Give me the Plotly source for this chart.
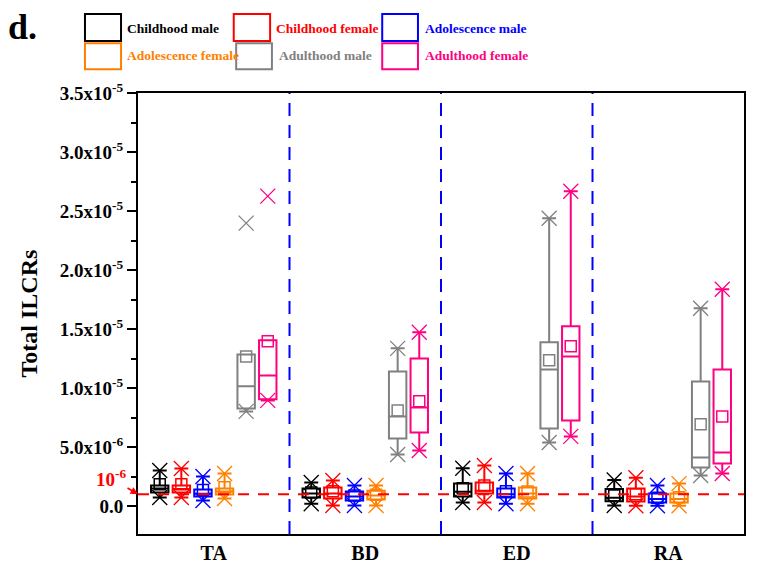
import plotly.graph_objects as go

# ---------------- data (values in units of 1e-6) ----------------
categories = ["TA", "BD", "ED", "RA"]
series_names = ["Childhood male", "Childhood female", "Adolescence male",
                "Adolescence female", "Adulthood male", "Adulthood female"]
series_colors = ["#000000", "#FF0000", "#0000FF", "#FF8000", "#808080", "#FF0080"]

# one row per series, one value per category (TA, BD, ED, RA)
min_vals = [
    [0.72, 0.20, 0.30, 0.05],
    [0.72, 0.05, 0.30, 0.02],
    [0.47, 0.05, 0.20, 0.02],
    [0.64, 0.05, 0.20, 0.02],
    [8.02, 4.37, 5.39, 2.59],
    [8.95, 4.71, 5.90, 2.76],
]
q1_vals = [
    [1.15, 0.72, 0.80, 0.40],
    [1.15, 0.64, 1.06, 0.38],
    [0.80, 0.47, 0.72, 0.30],
    [0.98, 0.55, 0.64, 0.30],
    [8.27, 5.73, 6.58, 3.27],
    [9.04, 6.24, 7.25, 3.61],
]
median_vals = [
    [1.48, 1.06, 1.20, 0.70],
    [1.45, 1.06, 1.30, 0.80],
    [1.05, 0.80, 1.00, 0.60],
    [1.23, 0.90, 1.06, 0.60],
    [10.14, 7.59, 11.58, 4.12],
    [11.07, 8.36, 12.68, 4.54],
]
mean_vals = [
    [1.85, 1.15, 1.50, 0.90],
    [1.85, 1.25, 1.74, 1.00],
    [1.36, 0.90, 1.25, 0.70],
    [1.60, 0.95, 1.23, 0.75],
    [12.68, 8.10, 12.35, 6.92],
    [13.96, 8.87, 13.55, 7.59],
]
q3_vals = [
    [1.74, 1.48, 1.90, 1.45],
    [1.74, 1.57, 1.99, 1.48],
    [1.40, 1.23, 1.48, 1.06],
    [1.48, 1.30, 1.57, 1.06],
    [12.85, 11.41, 13.87, 10.56],
    [14.04, 12.51, 15.23, 11.58],
]
max_vals = [
    [3.01, 2.00, 3.20, 2.20],
    [3.18, 2.16, 3.44, 2.40],
    [2.50, 1.74, 2.76, 1.74],
    [2.76, 1.74, 2.76, 1.90],
    [23.97, 13.36, 24.39, 16.76],
    [26.26, 14.72, 26.68, 18.37],
]
# upper whisker end (TA adulthood maxima are drawn as detached points)
upper_whisker_vals = [
    [3.01, 2.00, 3.20, 2.20],
    [3.18, 2.16, 3.44, 2.40],
    [2.50, 1.74, 2.76, 1.74],
    [2.76, 1.74, 2.76, 1.90],
    [12.85, 13.36, 24.39, 16.76],
    [14.04, 14.72, 26.68, 18.37],
]
threshold = 1.0  # 10^-6 reference level

ytick_vals = [0, 5, 10, 15, 20, 25, 30, 35]
ytick_text = ["0.0", "5.0x10<sup>-6</sup>", "1.0x10<sup>-5</sup>", "1.5x10<sup>-5</sup>",
              "2.0x10<sup>-5</sup>", "2.5x10<sup>-5</sup>", "3.0x10<sup>-5</sup>",
              "3.5x10<sup>-5</sup>"]

UNIT = 1e-6
FONT = "Liberation Serif"
SPACING = 0.1426
BOX_W = 0.115

fig = go.Figure()

for s, (name, col) in enumerate(zip(series_names, series_colors)):
    off = (s - 2.5) * SPACING
    xs = [i + 0.5 + off for i in range(len(categories))]
    sc = lambda arr: [v * UNIT for v in arr[s]]
    fig.add_trace(go.Box(
        x=xs, q1=sc(q1_vals), median=sc(median_vals), q3=sc(q3_vals),
        lowerfence=sc(min_vals), upperfence=sc(upper_whisker_vals),
        width=BOX_W, whiskerwidth=0.8, boxpoints=False,
        line=dict(color=col, width=2), fillcolor="rgba(0,0,0,0)",
        name=name, showlegend=False))
    fig.add_trace(go.Scatter(
        x=xs, y=sc(mean_vals), mode="markers", showlegend=False,
        marker=dict(symbol="square-open", size=11, color=col,
                    line=dict(color=col, width=1.5))))
    fig.add_trace(go.Scatter(
        x=xs + xs, y=sc(min_vals) + sc(max_vals), mode="markers", showlegend=False,
        marker=dict(symbol="x-thin-open", size=15, color=col,
                    line=dict(color=col, width=1.3))))

# reference line at 1e-6 and group dividers
fig.add_shape(type="line", xref="paper", x0=0, x1=1, yref="y",
              y0=threshold * UNIT, y1=threshold * UNIT, layer="above",
              line=dict(color="#FF0000", width=2, dash="11px,9px"))
for i in range(1, len(categories)):
    fig.add_shape(type="line", xref="x", x0=i, x1=i, yref="paper", y0=0, y1=1,
                  layer="above", line=dict(color="#0000FF", width=2, dash="13px,9px"))

# manual legend (2 rows x 3 columns)
leg_box_x = [(-0.0875, -0.028), (0.158, 0.218), (0.403, 0.462),
             (-0.0875, -0.028), (0.162, 0.221), (0.403, 0.462)]
leg_text_x = [-0.0215, 0.224, 0.470, -0.0215, 0.229, 0.470]
leg_rows = [(1.118, 1.179, 1.147), (1.054, 1.113, 1.084)]
for s, (name, col) in enumerate(zip(series_names, series_colors)):
    y0, y1, yc = leg_rows[s // 3]
    x0, x1 = leg_box_x[s]
    fig.add_shape(type="rect", xref="paper", yref="paper", x0=x0, x1=x1, y0=y0, y1=y1,
                  line=dict(color=col, width=2), fillcolor="rgba(0,0,0,0)")
    fig.add_annotation(xref="paper", yref="paper", x=leg_text_x[s], y=yc,
                       xanchor="left", yanchor="middle", showarrow=False, text=name,
                       font=dict(family=FONT, size=13.5, color=col, weight="bold"))

# panel letter, axis title, threshold label
fig.add_annotation(xref="paper", yref="paper", x=-0.191, y=1.15, text="d.",
                   xanchor="center", yanchor="middle", showarrow=False,
                   font=dict(family=FONT, size=36, color="black", weight="bold"))
fig.add_annotation(xref="paper", yref="paper", x=-0.1815, y=0.5, text="Total ILCRs",
                   xanchor="center", yanchor="middle", textangle=-90, showarrow=False,
                   font=dict(family=FONT, size=24, color="black", weight="bold"))
fig.add_annotation(xref="paper", yref="y", x=0, y=threshold * UNIT,
                   text="10<sup>-6</sup>", showarrow=True, ax=-27, ay=-16,
                   arrowhead=2, arrowsize=1, arrowwidth=1.5, arrowcolor="#FF0000",
                   font=dict(family=FONT, size=19, color="#FF0000", weight="bold"))

fig.update_layout(
    width=765, height=555,
    margin=dict(l=130, r=29, t=85, b=29),
    paper_bgcolor="white", plot_bgcolor="white",
    showlegend=False,
    font=dict(family=FONT, color="black"),
)
fig.update_xaxes(
    range=[0, len(categories)], tickmode="array",
    tickvals=[i + 0.5 for i in range(len(categories))], ticktext=categories,
    ticks="", showgrid=False, zeroline=False, automargin=False,
    showline=True, linecolor="black", linewidth=2, mirror=True,
    tickfont=dict(family=FONT, size=20, color="black", weight="bold"),
)
fig.update_yaxes(
    range=[-2.37 * UNIT, 35 * UNIT], tickmode="array",
    tickvals=[v * UNIT for v in ytick_vals], ticktext=ytick_text,
    ticks="outside", ticklen=9, tickwidth=2, tickcolor="black",
    minor=dict(ticks="outside", ticklen=5, tickwidth=2, tickcolor="black",
               dtick=2.5 * UNIT, tick0=0, showgrid=False),
    showgrid=False, zeroline=False, automargin=False,
    showline=True, linecolor="black", linewidth=2, mirror=True,
    tickfont=dict(family=FONT, size=19, color="black", weight="bold"),
)

fig.write_html("out.html")
